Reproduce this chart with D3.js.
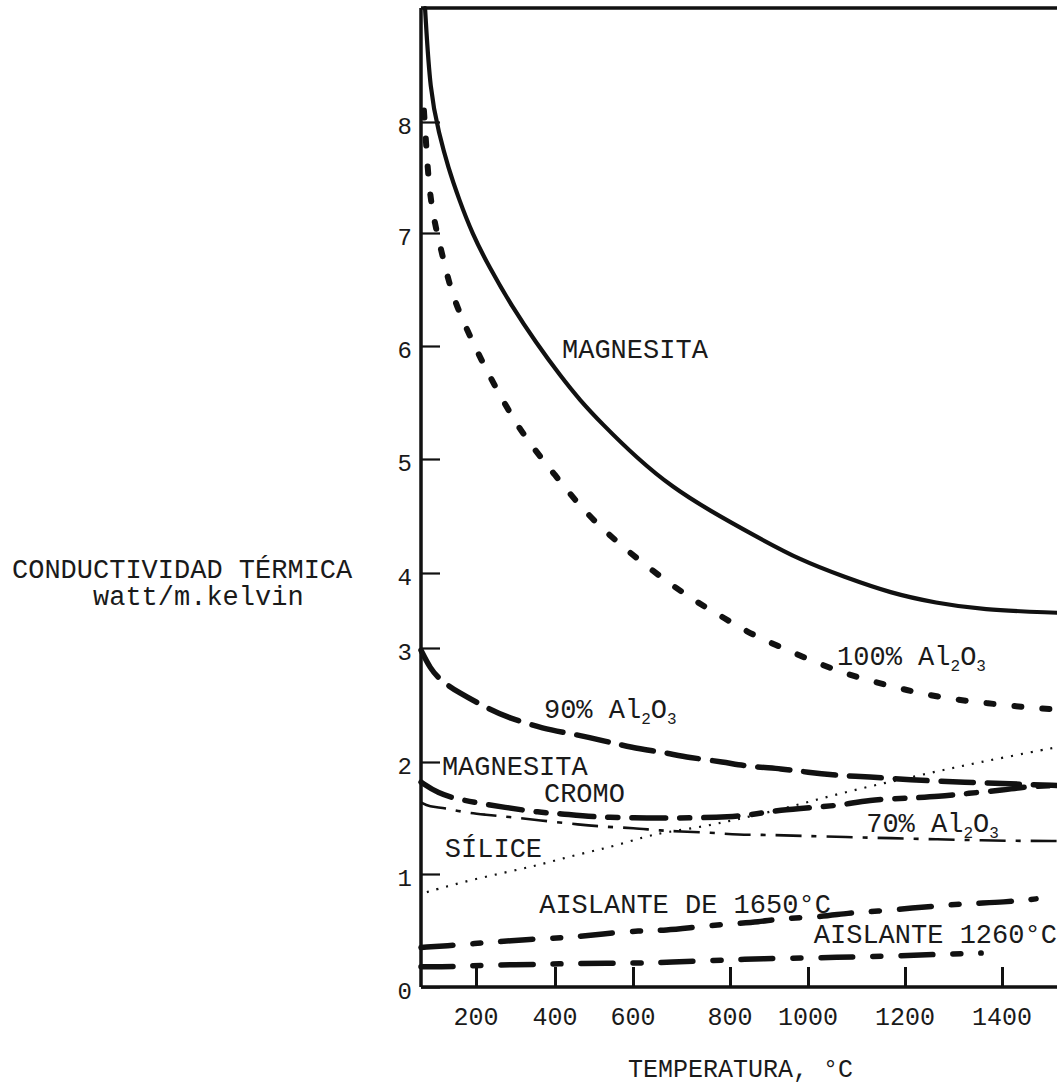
<!DOCTYPE html>
<html>
<head>
<meta charset="utf-8">
<script src="https://cdn.jsdelivr.net/npm/d3@7"></script>
<style>
  html, body { margin: 0; padding: 0; background: #fff; }
  svg { display: block; }
  text { font-family: "Liberation Mono", "DejaVu Sans Mono", monospace; fill: #1a1a1a; }
</style>
</head>
<body>
<svg id="chart" width="1057" height="1087"></svg>
<script>
// ---------------- data (temperature °C, conductivity W/m·K) ----------------
const xTickValues = [200, 400, 600, 800, 1000, 1200, 1400];
const yTickValues = [0, 1, 2, 3, 4, 5, 6, 7, 8];

const magnesita = [
  [61, 9.0], [75, 8.25], [99, 7.90], [124, 7.59], [154, 7.30], [189, 7.0],
  [233, 6.70], [291, 6.35], [352, 6.03], [415, 5.73], [464, 5.52], [518, 5.32],
  [610, 5.0], [682, 4.75], [757, 4.55], [867, 4.32], [982, 4.11], [1074, 3.95],
  [1171, 3.73], [1264, 3.60], [1357, 3.51], [1513, 3.47]
];
const alumina100 = [
  [58, 8.1], [65, 7.75], [72, 7.41], [85, 7.12], [105, 6.85], [126, 6.56],
  [151, 6.32], [189, 6.05], [223, 5.81], [263, 5.55], [304, 5.30], [349, 5.08],
  [400, 4.86], [451, 4.64], [505, 4.44], [567, 4.25], [625, 4.07], [680, 3.84],
  [732, 3.61], [788, 3.40], [859, 3.17], [936, 3.0], [1012, 2.88], [1074, 2.78],
  [1138, 2.70], [1204, 2.63], [1268, 2.57], [1338, 2.53], [1404, 2.50],
  [1474, 2.47], [1513, 2.46]
];
const alumina90 = [
  [50, 2.98], [75, 2.82], [102, 2.72], [151, 2.61], [236, 2.46], [281, 2.39],
  [372, 2.29], [441, 2.25], [533, 2.18], [592, 2.13], [668, 2.08], [713, 2.04],
  [788, 2.0], [844, 1.96], [936, 1.94], [992, 1.91], [1078, 1.875], [1120, 1.87],
  [1208, 1.84], [1320, 1.82], [1450, 1.80], [1513, 1.79]
];
const magnesitaCromo = [
  [50, 1.82], [96, 1.72], [156, 1.66], [281, 1.59], [360, 1.55], [413, 1.54],
  [492, 1.51], [610, 1.50], [658, 1.50], [724, 1.50], [798, 1.51], [859, 1.53],
  [923, 1.57], [1027, 1.60], [1078, 1.62], [1120, 1.66], [1212, 1.68],
  [1268, 1.69], [1330, 1.72], [1404, 1.75], [1450, 1.78], [1513, 1.79]
];
const alumina70 = [
  [50, 1.64], [72, 1.60], [115, 1.59], [175, 1.545], [223, 1.53], [281, 1.51],
  [360, 1.48], [464, 1.44], [533, 1.42], [602, 1.41], [650, 1.39], [695, 1.38],
  [761, 1.37], [820, 1.35], [900, 1.35], [982, 1.34], [1078, 1.33], [1171, 1.32],
  [1264, 1.31], [1357, 1.30], [1450, 1.295], [1513, 1.295]
];
const silice = [
  [66, 0.84], [164, 0.93], [268, 1.01], [360, 1.08], [451, 1.17], [544, 1.24],
  [621, 1.33], [668, 1.375], [742, 1.42], [808, 1.48], [923, 1.57], [1031, 1.68],
  [1124, 1.78], [1219, 1.87], [1311, 1.96], [1404, 2.04], [1513, 2.13]
];
const aislante1650 = [
  [50, 0.35], [145, 0.37], [213, 0.39], [286, 0.41], [377, 0.43], [446, 0.44],
  [519, 0.47], [615, 0.50], [668, 0.50], [728, 0.53], [803, 0.56], [872, 0.575],
  [941, 0.61], [1027, 0.62], [1082, 0.655], [1142, 0.67], [1218, 0.70],
  [1274, 0.72], [1334, 0.74], [1404, 0.75], [1470, 0.78]
];
const aislante1260 = [
  [50, 0.18], [145, 0.18], [218, 0.195], [380, 0.20], [446, 0.21], [615, 0.21],
  [668, 0.22], [803, 0.24], [872, 0.25], [1031, 0.26], [1086, 0.265],
  [1218, 0.28], [1274, 0.29], [1357, 0.30]
];

// label text pieces: [plain, sub, plain, sub ...]; anchor in data units
const labels = [
  { parts: ["MAGNESITA"], at: [418, 5.89] },
  { parts: ["100% Al", "2", "O", "3"], at: [1060, 2.85] },
  { parts: ["90% Al", "2", "O", "3"], at: [372, 2.39] },
  { parts: ["MAGNESITA"], at: [107, 1.88] },
  { parts: ["CROMO"], at: [372, 1.64] },
  { parts: ["70% Al", "2", "O", "3"], at: [1120, 1.375] },
  { parts: ["SÍLICE"], at: [115, 1.15] },
  { parts: ["AISLANTE DE 1650°C"], at: [360, 0.655] },
  { parts: ["AISLANTE 1260°C"], at: [1012, 0.39] }
];
const yTitle = ["CONDUCTIVIDAD TÉRMICA", "watt/m.kelvin"];
const xTitle = "TEMPERATURA, °C";

// ---------------- scales (hand-drawn original: uneven tick spacing) ----------------
const x = d3.scaleLinear()
  .domain([50, 200, 400, 600, 800, 1000, 1200, 1400, 1513])
  .range([421, 476, 555, 633, 730, 808, 905, 1002, 1057]);
const y = d3.scaleLinear()
  .domain([0, 1, 2, 3, 4, 5, 6, 7, 8, 9])
  .range([987, 874, 762, 648, 573, 459, 346, 233, 122, 8]);

const svg = d3.select("#chart");
const ink = "#111";

// frame: top line
svg.append("line")
  .attr("x1", x(50)).attr("x2", x(1513))
  .attr("y1", y(9)).attr("y2", y(9))
  .attr("stroke", ink).attr("stroke-width", 3.5);

// y axis (ticks inward)
const yAxis = d3.axisRight(y).tickValues(yTickValues).tickSize(19).tickFormat("");
const gy = svg.append("g").attr("transform", `translate(${x(50)},0)`).call(yAxis);
gy.select(".domain").remove();
gy.selectAll(".tick line").attr("stroke", ink).attr("stroke-width", 2.2);
svg.append("line")
  .attr("x1", x(50)).attr("x2", x(50))
  .attr("y1", y(9)).attr("y2", y(0))
  .attr("stroke", ink).attr("stroke-width", 3.5);
svg.selectAll(".ylab").data(yTickValues).join("text")
  .attr("class", "ylab")
  .attr("x", x(50) - 9)
  .attr("y", d => y(d) + 12)
  .attr("text-anchor", "end")
  .attr("font-size", 24)
  .text(d => d);

// x axis (ticks inward)
const xAxis = d3.axisTop(x).tickValues(xTickValues).tickSize(20).tickFormat("");
const gx = svg.append("g").attr("transform", `translate(0,${y(0)})`).call(xAxis);
gx.select(".domain").remove();
gx.selectAll(".tick line").attr("stroke", ink).attr("stroke-width", 3);
svg.append("line")
  .attr("x1", x(50)).attr("x2", x(1513))
  .attr("y1", y(0)).attr("y2", y(0))
  .attr("stroke", ink).attr("stroke-width", 3.5);
svg.selectAll(".xlab").data(xTickValues).join("text")
  .attr("class", "xlab")
  .attr("x", d => x(d))
  .attr("y", y(0) + 38)
  .attr("text-anchor", "middle")
  .attr("font-size", 25)
  .text(d => d);

// axis titles
svg.append("text").attr("x", 12).attr("y", 578).attr("font-size", 27).text(yTitle[0]);
svg.append("text").attr("x", 93).attr("y", 605).attr("font-size", 27).text(yTitle[1]);
svg.append("text").attr("x", 628).attr("y", 1077).attr("font-size", 25).text(xTitle);

// ---------------- curves ----------------
const line = d3.line().x(d => x(d[0])).y(d => y(d[1])).curve(d3.curveBasis);
const series = [
  { data: magnesita, w: 4.2, dash: null, cap: "round" },
  { data: alumina100, w: 6, dash: "7,21", cap: "round" },
  { data: alumina90, w: 5.5, dash: "32,14", cap: "round" },
  { data: magnesitaCromo, w: 5.5, dash: "34,14,10,14", cap: "round" },
  { data: alumina70, w: 2.6, dash: "26,10,5,10", cap: "butt" },
  { data: silice, w: 2.2, dash: "2,8", cap: "butt" },
  { data: aislante1650, w: 5.5, dash: "32,20,8,20", cap: "round" },
  { data: aislante1260, w: 5.5, dash: "32,20,8,20", cap: "round" }
];
svg.selectAll(".series").data(series).join("path")
  .attr("class", "series")
  .attr("d", d => line(d.data))
  .attr("fill", "none")
  .attr("stroke", ink)
  .attr("stroke-width", d => d.w)
  .attr("stroke-linecap", d => d.cap)
  .attr("stroke-dasharray", d => d.dash);

// ---------------- labels ----------------
labels.forEach(l => {
  const t = svg.append("text")
    .attr("x", x(l.at[0])).attr("y", y(l.at[1]))
    .attr("font-size", 27);
  l.parts.forEach((p, i) => {
    const ts = t.append("tspan").text(p);
    if (i % 2 === 1) {
      ts.attr("font-size", 16).attr("dy", 6);
    } else if (i > 0) {
      ts.attr("dy", -6);
    }
  });
});
</script>
</body>
</html>
